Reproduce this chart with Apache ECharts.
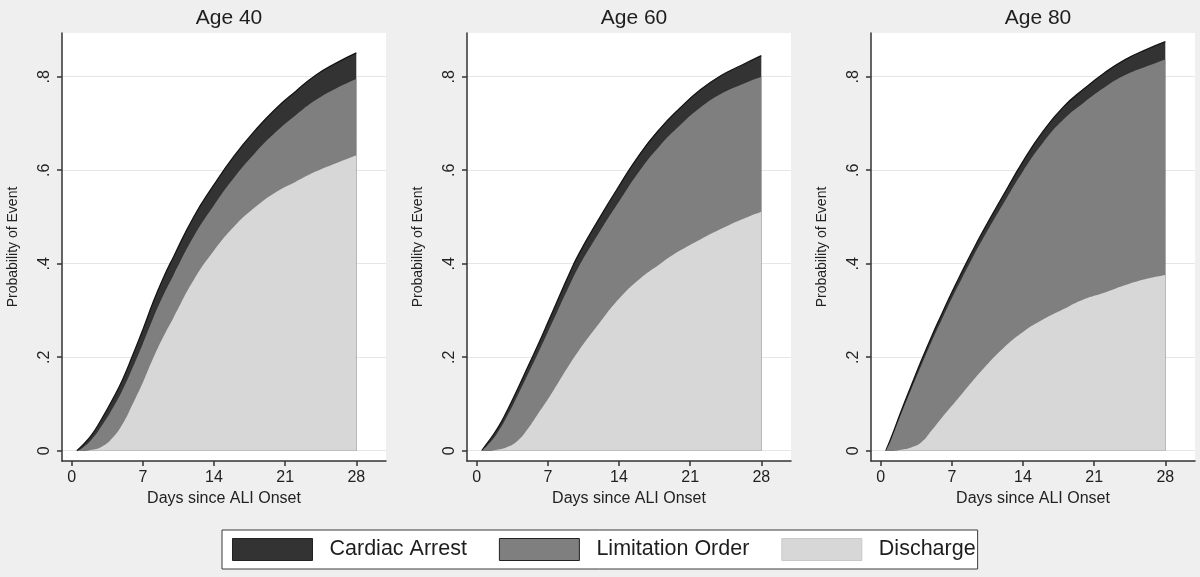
<!DOCTYPE html>
<html>
<head>
<meta charset="utf-8">
<script src="https://cdn.jsdelivr.net/npm/echarts@6/dist/echarts.min.js"></script>
<style>
html,body{margin:0;padding:0;background:#efefef;}
#chart{width:1200px;height:577px;}
</style>
</head>
<body>
<div id="chart"></div>
<script>
// ---- data ----
const panelTitles = ['Age 40', 'Age 60', 'Age 80'];
const eventNames = ['Cardiac Arrest', 'Limitation Order', 'Discharge'];
const days = [0.5, 1, 2, 3, 4, 5, 6, 7, 8, 9, 10, 12, 14, 16, 18, 20, 22, 24, 26, 28];

const discharge40  = [0, 0, 0.002, 0.009, 0.027, 0.057, 0.100, 0.146, 0.197, 0.243, 0.284, 0.365, 0.428, 0.480, 0.520, 0.552, 0.575, 0.597, 0.615, 0.632];
const limitation40 = [0, 0.005, 0.023, 0.046, 0.063, 0.073, 0.078, 0.083, 0.086, 0.089, 0.091, 0.093, 0.097, 0.105, 0.116, 0.128, 0.142, 0.153, 0.160, 0.163];
const cardiac40    = [0, 0.005, 0.010, 0.015, 0.019, 0.022, 0.026, 0.030, 0.034, 0.037, 0.039, 0.042, 0.044, 0.046, 0.048, 0.050, 0.051, 0.053, 0.054, 0.056];

const discharge60  = [0, 0, 0.002, 0.008, 0.021, 0.046, 0.078, 0.110, 0.145, 0.180, 0.213, 0.271, 0.325, 0.367, 0.399, 0.428, 0.452, 0.474, 0.494, 0.511];
const limitation60 = [0, 0.010, 0.035, 0.066, 0.096, 0.116, 0.129, 0.144, 0.156, 0.168, 0.179, 0.194, 0.208, 0.231, 0.253, 0.268, 0.282, 0.289, 0.289, 0.289];
const cardiac60    = [0, 0.005, 0.009, 0.012, 0.014, 0.016, 0.018, 0.020, 0.023, 0.025, 0.027, 0.030, 0.033, 0.035, 0.036, 0.037, 0.038, 0.039, 0.041, 0.045];

const discharge80  = [0, 0, 0.002, 0.007, 0.018, 0.043, 0.070, 0.096, 0.122, 0.148, 0.173, 0.218, 0.254, 0.281, 0.303, 0.324, 0.338, 0.354, 0.367, 0.376];
const limitation80 = [0, 0.022, 0.076, 0.124, 0.165, 0.190, 0.210, 0.230, 0.247, 0.263, 0.278, 0.308, 0.344, 0.379, 0.406, 0.421, 0.439, 0.449, 0.454, 0.461];
const cardiac80    = [0, 0.004, 0.006, 0.008, 0.010, 0.011, 0.012, 0.013, 0.014, 0.015, 0.016, 0.018, 0.021, 0.024, 0.027, 0.029, 0.031, 0.033, 0.036, 0.038];

const xTicks = [0, 7, 14, 21, 28];
const yTicks = [0, 0.2, 0.4, 0.6, 0.8];
const yTickLabels = ['0', '.2', '.4', '.6', '.8'];
const xTitle = 'Days since ALI Onset';
const yTitle = 'Probability of Event';

// ---- layout / style ----
const FONT = '"Liberation Sans", Arial, sans-serif';
const colors = { 'Cardiac Arrest': '#333333', 'Limitation Order': '#7f7f7f', 'Discharge': '#d7d7d7' };
const panels = [
  { dis: discharge40, lim: limitation40, car: cardiac40, left: 62 },
  { dis: discharge60, lim: limitation60, car: cardiac60, left: 467 },
  { dis: discharge80, lim: limitation80, car: cardiac80, left: 871 }
];
const plotW = 324, plotTop = 33, plotH = 428;

const grids = [], xAxes = [], yAxes = [], series = [], titles = [];
panels.forEach((p, i) => {
  grids.push({ left: p.left, top: plotTop, width: plotW, height: plotH, show: true, backgroundColor: '#ffffff', borderWidth: 0, containLabel: false });
  titles.push({ text: panelTitles[i], left: p.left + plotW / 2, top: 3, textAlign: 'center',
    textStyle: { fontFamily: FONT, fontSize: 21, fontWeight: 'normal', color: '#1e1e1e' } });
  xAxes.push({
    gridIndex: i, type: 'value', min: -0.954, max: 30.92,
    name: xTitle, nameLocation: 'middle', nameGap: 29,
    nameTextStyle: { fontFamily: FONT, fontSize: 16, color: '#222' },
    axisLine: { show: true, onZero: false, lineStyle: { color: '#333', width: 1.5 } },
    axisTick: { show: true, length: 5, customValues: xTicks, lineStyle: { color: '#333', width: 1.5 } },
    axisLabel: { customValues: xTicks, margin: 9, fontFamily: FONT, fontSize: 16, color: '#222' },
    splitLine: { show: false }
  });
  yAxes.push({
    gridIndex: i, type: 'value', min: -0.022, max: 0.8935,
    name: yTitle, nameLocation: 'middle', nameGap: 42, nameRotate: 90,
    nameTextStyle: { fontFamily: FONT, fontSize: 14, color: '#222' },
    axisLine: { show: true, onZero: false, lineStyle: { color: '#333', width: 1.5 } },
    axisTick: { show: true, length: 5, customValues: yTicks, lineStyle: { color: '#333', width: 1.5 } },
    axisLabel: { customValues: yTicks, rotate: 90, margin: 9, fontFamily: FONT, fontSize: 16, color: '#222',
      formatter: v => { const k = yTicks.findIndex(t => Math.abs(t - v) < 1e-9); return k >= 0 ? yTickLabels[k] : ''; } },
    splitLine: { show: true, lineStyle: { color: '#e6e6e6', width: 1.2 } }
  });
  // cumulative boundaries (stacked by hand): discharge, + limitation, + cardiac arrest
  const cumDis = p.dis.slice();
  const cumLim = p.dis.map((v, j) => v + p.lim[j]);
  const cumCar = cumLim.map((v, j) => v + p.car[j]);
  // draw the tallest first so that lower layers paint over it
  const layers = [['Cardiac Arrest', cumCar], ['Limitation Order', cumLim], ['Discharge', cumDis]];
  layers.forEach(([name, arr], k) => {
    const top = name === 'Cardiac Arrest';
    series.push({
      name, type: 'line', xAxisIndex: i, yAxisIndex: i, z: 2 + k,
      smooth: 0.5, symbol: 'none', silent: true,
      data: days.map((d, j) => [d, arr[j]]),
      itemStyle: { color: colors[name] },
      lineStyle: top ? { color: '#151515', width: 1.3 } : { width: 0, color: colors[name] },
      areaStyle: { color: colors[name], opacity: 1, origin: 'auto' }
    });
  });
});

const chart = echarts.init(document.getElementById('chart'), null, { renderer: 'canvas' });
chart.setOption({
  backgroundColor: '#efefef',
  animation: false,
  title: titles,
  grid: grids,
  xAxis: xAxes,
  yAxis: yAxes,
  legend: {
    left: 222, top: 530, orient: 'horizontal',
    backgroundColor: '#ffffff', borderColor: '#3a3a3a', borderWidth: 1,
    padding: [8, 2, 8, 10],
    icon: 'rect', itemWidth: 80, itemHeight: 22, itemGap: 32,
    selectedMode: false,
    textStyle: { fontFamily: FONT, fontSize: 21.5, color: '#1e1e1e', padding: [0, 0, 0, 12] },
    data: eventNames.map(n => ({ name: n, itemStyle: { color: colors[n], borderColor: n === 'Discharge' ? '#c8c8c8' : '#222', borderWidth: 1 } }))
  },
  series
});
</script>
</body>
</html>
